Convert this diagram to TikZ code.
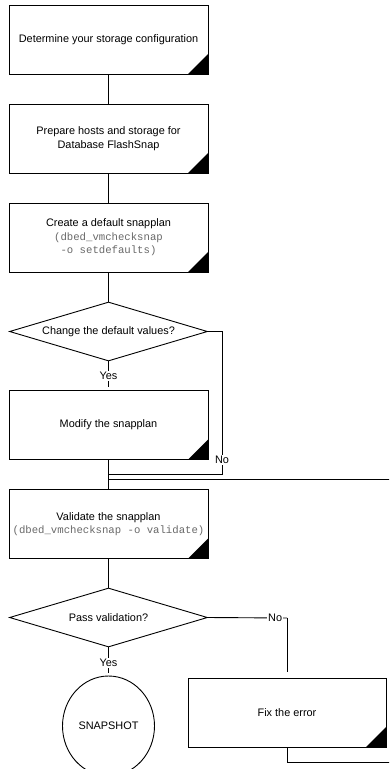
\documentclass[tikz,border=0pt]{standalone}
\usepackage{fontspec}
\setmainfont{Liberation Sans}
\newfontfamily\codefont{Liberation Mono}
\usetikzlibrary{shapes.geometric}
\definecolor{codegray}{RGB}{105,105,105}
\tikzset{
  stepbox/.style={draw, line width=0.9pt, rectangle, minimum width=199pt, minimum height=69pt,
    inner sep=0pt, align=center, font=\fontsize{10.9}{13.5}\selectfont,
    path picture={\fill (path picture bounding box.south east) -- ++(-20,0) -- ++(20,-20) -- cycle;}},
  decision/.style={draw, line width=0.9pt, diamond, shape aspect=3.36, minimum width=198pt,
    minimum height=59pt, inner sep=0pt, font=\fontsize{10.9}{13.5}\selectfont},
  endnode/.style={draw, line width=0.9pt, ellipse, minimum width=92pt, minimum height=100pt,
    inner sep=0pt, font=\fontsize{10.9}{13.5}\selectfont},
  conn/.style={draw, line width=0.9pt},
  lbl/.style={fill=white, inner sep=1pt, font=\fontsize{10.9}{13}\selectfont}
}
\newcommand{\cmd}[1]{{\color{codegray}\codefont\fontsize{10.65}{13.5}\selectfont #1}}
\begin{document}
\begin{tikzpicture}[x=1pt,y=-1pt]
\clip (0,0) rectangle (389,769);
\fill[white] (0,0) rectangle (389,769);

\node[stepbox] (b1) at (108.5,39.5) {Determine your storage configuration};
\node[stepbox] (b2) at (108.5,138.5) {Prepare hosts and storage for\\Database FlashSnap};
\node[stepbox] (b3) at (108.5,237.5) {Create a default snapplan\\\cmd{(dbed\_vmchecksnap}\\\cmd{-o setdefaults)}};
\node[decision] (d1) at (108.5,331.5) {Change the default values?};
\node[stepbox] (b4) at (108.5,425) {Modify the snapplan};
\node[stepbox] (b5) at (108.5,524) {Validate the snapplan\\\cmd{(dbed\_vmchecksnap -o validate)}};
\node[decision] (d2) at (108.5,617.5) {Pass validation?};
\node[endnode] (e1) at (108.5,726) {SNAPSHOT};
\node[stepbox, minimum width=198pt] (b6) at (287,712.5) {Fix the error};

\coordinate (n1) at (222,474);
\coordinate (j1) at (108.5,474);
\coordinate (j2) at (108.5,479);
\coordinate (r1) at (287,762);
\coordinate (r2) at (400,762);
\coordinate (r3) at (400,479);
\coordinate (n2) at (287,618);

\draw[conn] (b1.south) -- (b2.north);
\draw[conn] (b2.south) -- (b3.north);
\draw[conn] (b3.south) -- (d1.north);
\draw[conn, shorten >=3pt] (d1.south) -- node[lbl, pos=0.5] {Yes} (b4.north);
\draw[conn] (d1.east) -| node[lbl, pos=0.95] {No} (n1) -- (j1);
\draw[conn] (b4.south) -- (b5.north);
\draw[conn] (b6.south) -- (r1) -- (r2) -- (r3) -- (j2);
\draw[conn] (b5.south) -- (d2.north);
\draw[conn, shorten >=3pt] (d2.south) -- node[lbl, pos=0.55] {Yes} (e1.north);
\draw[conn] (d2.east) -- node[lbl, pos=0.85] {No} (n2);
\draw[conn, shorten >=6pt] (n2) -- (b6.north);
\end{tikzpicture}
\end{document}
